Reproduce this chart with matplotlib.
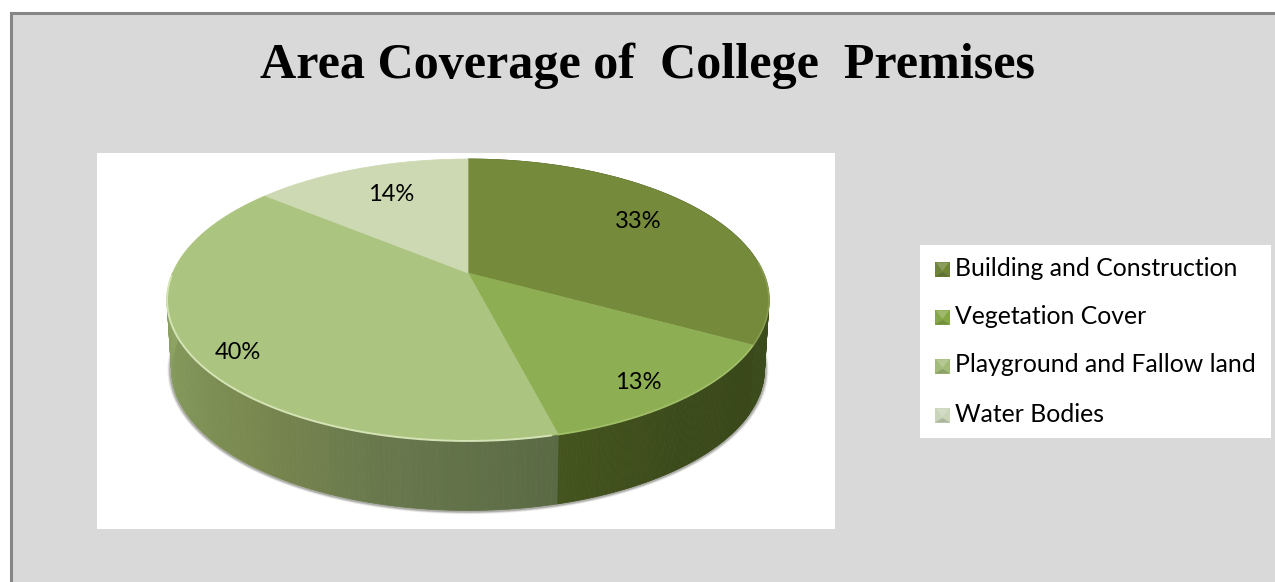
import numpy as np
import matplotlib
matplotlib.use("Agg")
import matplotlib.pyplot as plt
from matplotlib.patches import Polygon, Rectangle
from matplotlib.colors import LinearSegmentedColormap

categories = ["Building and Construction", "Vegetation Cover",
              "Playground and Fallow land", "Water Bodies"]
shares = [33, 13, 40, 14]
top_colors = ["#768a3b", "#8dae52", "#abc47f", "#cdd9b2"]
marker_colors = ["#6f8438", "#86a748", "#a3bb78", "#c9d4b8"]
title = "Area Coverage of  College  Premises"

W, H = 1275, 582
fig = plt.figure(figsize=(W / 100, H / 100), dpi=100, facecolor="white")
ax = fig.add_axes([0, 0, 1, 1])
ax.set_xlim(0, W)
ax.set_ylim(H, 0)
ax.axis("off")

# Panel, plot area and legend backgrounds
ax.add_patch(Rectangle((11, 12.5), W, H, fc="#d9d9d9", ec="#868686", lw=2.2, zorder=0))
ax.add_patch(Rectangle((97, 153), 738, 376, fc="white", ec="none", zorder=1))
ax.add_patch(Rectangle((920, 245), 351, 193, fc="white", ec="none", zorder=1))

ax.text(648, 78, title, family="Liberation Serif", weight="bold", fontsize=36.1,
        ha="center", va="baseline", color="black", zorder=5)

# Perspective projection of the unit disc onto the pie's top face
APEX_X, APEX_Y = 468.0, 273.0
PERSP, SCALE_X, SCALE_Y = 0.1915, 295.4, 135.8
DEPTH = 70.0


def project(theta):
    """Clockwise angle from twelve o'clock to the rim of the top face."""
    x, y = np.sin(theta), np.cos(theta)
    d = 1 + PERSP * y
    return APEX_X + SCALE_X * x / d, APEX_Y - SCALE_Y * y / d


def lower_rim(theta):
    px, py = project(theta)
    return APEX_X + (px - APEX_X) * 0.985, py + DEPTH - 0.5


edges = 2 * np.pi * np.concatenate([[0], np.cumsum(shares)]) / sum(shares)

# Blurred shadow just outside the lower rim of the wall
wall_stop = np.pi * 1.5
rim_t = np.linspace(1.4, wall_stop, 240)
rx, ry = lower_rim(rim_t)
for grow, alpha in zip([5, 4, 3, 2, 1], [0.05, 0.08, 0.12, 0.16, 0.22]):
    ax.plot(rx + grow * 0.6 * np.sin(rim_t), ry - grow * 0.5 * np.cos(rim_t),
            color="#55564e", lw=2, alpha=alpha, zorder=1.8)

# Front wall of the pie: drawn in strips so each slice keeps its own shading
side_maps = [
    LinearSegmentedColormap.from_list("s0", ["#3b4a1b", "#425320", "#4a5c22"]),
    LinearSegmentedColormap.from_list("s1", ["#3a481a", "#3b4a1a", "#44541e"]),
    LinearSegmentedColormap.from_list(
        "s2", ["#5a6a44", "#68774c", "#79884f", "#82965a", "#8fa565"]),
]
for i, cmap in enumerate(side_maps):
    lo, hi = edges[i], min(edges[i + 1], wall_stop)
    steps = np.linspace(lo, hi, 121)
    for a, b in zip(steps[:-1], steps[1:]):
        mid = 0.5 * (a + b)
        tx0, ty0 = project(a)
        tx1, ty1 = project(b)
        bx0, by0 = lower_rim(a)
        bx1, by1 = lower_rim(b)
        f = (mid - lo) / (hi - lo)
        if i == 0:
            f = 1 - f
        ax.add_patch(Polygon([(tx0, ty0), (tx1, ty1), (bx1, by1), (bx0, by0)],
                             closed=True, fc=cmap(f), ec=cmap(f), lw=0.6, zorder=2))

# Top face slices
for i, color in enumerate(top_colors):
    t = np.linspace(edges[i], edges[i + 1], 240)
    px, py = project(t)
    verts = np.column_stack([np.r_[APEX_X, px], np.r_[APEX_Y, py]])
    ax.add_patch(Polygon(verts, closed=True, fc=color, ec=color, lw=0.5, zorder=3))

# Light bevel along the front of the top face
bevel = np.linspace(edges[2] + 0.02, wall_stop - 0.02, 300)
bx, by = project(bevel)
ax.plot(bx, by, color="#dbe8bd", lw=1.4, alpha=0.9, zorder=3.5, solid_capstyle="round")
bevel = np.linspace(edges[1], edges[2], 120)
bx, by = project(bevel)
ax.plot(bx, by, color="#a0bf68", lw=1.3, zorder=3.6)
bevel = np.linspace(1.5, edges[1], 60)
bx, by = project(bevel)
ax.plot(bx, by, color="#8a9c52", lw=1.2, zorder=3.6)

# Percentage labels placed along each slice's bisector, with small nudges
label_radius = [0.69, 0.75, 0.83, 0.72]
label_shift = [(6, -7), (17, 19), (-4, 13), (4, 0)]
for i, share in enumerate(shares):
    mid = 0.5 * (edges[i] + edges[i + 1])
    x, y = np.sin(mid) * label_radius[i], np.cos(mid) * label_radius[i]
    d = 1 + PERSP * y
    px = APEX_X + SCALE_X * x / d + label_shift[i][0]
    py = APEX_Y - SCALE_Y * y / d + label_shift[i][1]
    ax.text(px, py, f"{share}%", family="Lato", fontsize=17, ha="center",
            va="center", color="black", zorder=6)

# Legend with small pillow-shaded swatches
rows = [269, 317, 366, 415]
for name, color, yc in zip(categories, marker_colors, rows):
    x0, s = 935, 15
    y0 = yc - s / 2
    ax.add_patch(Rectangle((x0, y0), s, s, fc=color, ec="none", zorder=4))
    cx, cy = x0 + s / 2, y0 + s / 2
    ax.add_patch(Polygon([(x0 + 1, y0 + 1), (x0 + s - 1, y0 + 1), (cx, cy + 2)], closed=True,
                         fc="white", alpha=0.2, ec="none", zorder=4.1))
    ax.add_patch(Polygon([(x0, y0 + s), (x0 + s, y0 + s), (cx, cy + 3)], closed=True,
                         fc="black", alpha=0.14, ec="none", zorder=4.1))
    ax.text(955, yc - 1, name, family="Lato", fontsize=17.8, ha="left", va="center",
            color="black", zorder=5)

fig.savefig("out.png", dpi=100, facecolor="white")
